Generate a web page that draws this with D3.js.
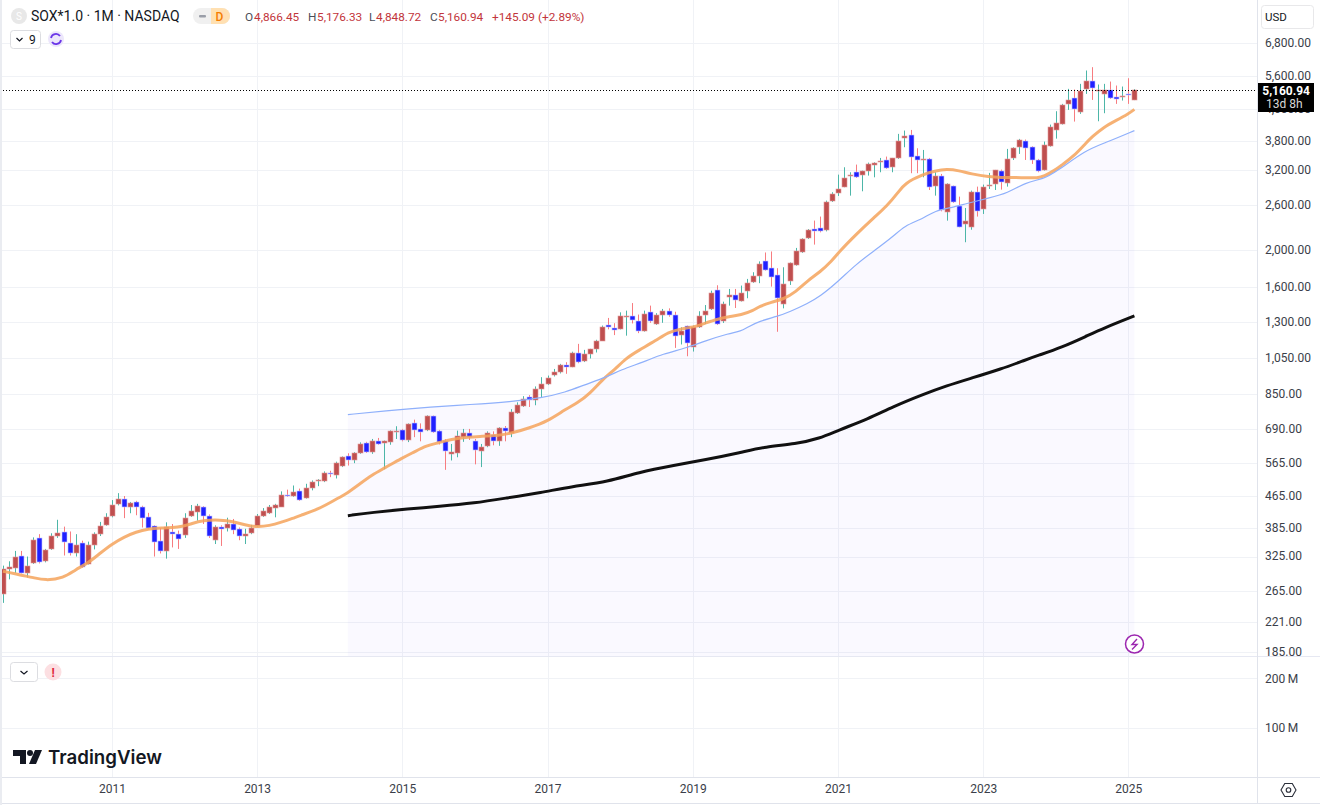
<!DOCTYPE html>
<html>
<head>
<meta charset="utf-8">
<title>SOX monthly</title>
<script src="https://cdn.jsdelivr.net/npm/d3@7"></script>
<style>
  body { margin: 0; background: #fff; }
  text { font-family: Roboto, sans-serif; }
  .domain { display: none; }
</style>
</head>
<body>
<div id="chart"></div>
<script>
// monthly bars, first bar is Jul 2009
var firstYear = 2009;
var firstMonth = 6;

var opens = [261,302,304,327,295,312,363,316,340,367,376,353,331,353,311,349,371,392,413,443,457,436,449,437,410,390,357,335,375,372,
  370,413,423,435,412,359,386,384,394,383,366,374,390,413,420,433,437,468,466,479,460,489,507,507,532,528,554,588,574,599,
  636,603,643,638,639,680,688,648,718,691,688,748,685,643,595,601,659,677,646,607,626,668,646,696,676,761,793,836,819,875,
  904,950,971,1011,1001,1086,1035,1081,1112,1168,1283,1260,1252,1346,1353,1309,1234,1384,1286,1360,1394,1362,1204,1276,1127,1268,1360,1405,1573,1308,
  1508,1532,1480,1563,1650,1710,1875,1792,1723,1447,1666,1827,1977,2144,2265,2274,2251,2663,2804,2905,3095,3175,3107,3182,3310,3369,3409,3258,3437,3869,
  3946,3485,3396,3430,2911,3101,2495,2917,2596,2324,2292,2820,2545,2911,2951,3194,2975,3443,3668,3816,3668,3409,3207,3700,4064,4211,4742,4904,4531,5173,
  5445,5112,5021,5152,4953,4933,5030,4866.45];
var highs = [308,316,336,336,325,364,371,340,373,404,388,377,371,357,355,375,399,420,454,473,465,449,452,439,421,391,385,398,394,379,
  420,441,444,438,417,391,391,409,406,386,383,392,418,433,441,444,478,483,495,486,500,510,514,538,540,570,588,599,603,639,
  641,652,656,646,686,703,692,715,731,715,750,749,688,651,633,685,692,692,652,633,682,682,699,704,778,810,840,845,890,940,
  949,987,1017,1027,1093,1145,1105,1112,1173,1276,1335,1294,1380,1394,1458,1362,1394,1436,1373,1408,1413,1385,1263,1276,1276,1389,1441,1569,1620,1470,
  1585,1585,1617,1682,1750,1866,1967,1979,1792,1802,1854,2021,2140,2260,2376,2433,2674,2810,3119,3258,3163,3310,3194,3349,3356,3443,3471,3443,3970,4049,
  4064,3646,3610,3443,3163,3132,2963,2923,2738,2560,2837,2905,2940,3151,3207,3213,3632,3668,3854,3839,3690,3423,3793,4194,4540,4742,5183,5163,5339,5778,
  5893,5318,5339,5412,5286,5255,5520,5176.33];
var lows = [247,284,295,294,287,311,312,314,338,363,327,327,325,304,310,339,367,390,410,440,408,420,415,386,382,325,331,321,343,340,
  363,411,402,394,363,350,346,377,371,358,350,371,388,411,418,410,437,463,463,452,458,481,493,505,520,516,552,557,565,597,
  600,597,630,545,630,652,643,640,659,643,683,676,631,543,574,585,641,648,561,552,621,628,626,643,659,756,788,788,796,832,
  897,944,961,959,997,1021,1028,1050,1088,1168,1248,1206,1247,1202,1292,1220,1231,1297,1281,1297,1345,1118,1141,1064,1094,1258,1288,1399,1280,1296,
  1436,1416,1471,1500,1643,1640,1766,1607,1230,1413,1623,1819,1962,2131,2061,2216,2229,2653,2749,2894,2754,3058,2826,3101,3070,3163,3226,3163,3423,3668,
  3145,3145,3070,2848,2754,2510,2375,2638,2283,2090,2251,2433,2471,2865,2848,2854,2905,3402,3526,3402,3323,3163,3194,3680,3860,4195,4576,4270,4469,5031,
  4855,4278,4487,4884,4742,4836,4742,4848.72];
var closes = [302,305,325,294,308,358,314,338,367,374,354,331,349,305,349,371,390,410,441,457,435,447,436,408,384,354,336,386,371,361,
  408,425,439,412,366,386,382,394,380,366,372,384,412,426,436,441,468,466,477,455,489,506,510,534,530,565,585,574,599,633,
  603,643,633,644,684,684,648,711,689,681,746,679,641,606,602,662,677,659,610,620,676,645,696,685,763,798,827,819,879,904,
  938,967,1009,999,1082,1028,1079,1110,1168,1268,1263,1241,1353,1354,1319,1234,1367,1309,1362,1394,1360,1200,1236,1149,1268,1348,1394,1548,1286,1450,
  1532,1488,1548,1641,1713,1839,1773,1699,1503,1634,1846,1989,2126,2251,2229,2229,2658,2782,2871,3058,3113,3082,3182,3323,3343,3389,3239,3437,3816,3931,
  3457,3402,3416,2894,3088,2530,2951,2648,2292,2375,2810,2510,2905,2934,3207,2980,3430,3654,3839,3646,3402,3182,3712,4135,4244,4723,4865,4612,5112,5445,
  5203,5142,5152,4904,4884,4962,5016,5160.94];

// moving averages: bar number, then level
var orangeBars = [0,3,5,7,10,12,14,16,18,20,22,24,26,29,31,33,36,38,40,42,44,46,48,49,52,55,57,59,61,63,66,68,70,72,74,77,79,82,84,87,90,93,95,97,99,101,103,105,108,110,112,114,116,118,120,122,124,125,127,129,131,133,135,137,138,141,144,146,148,149,152,154,156,158,160,163,165,167,169,171,172,174,175,177,179,180,182,184,186,187];
var orangeValues = [298,291,287,282,286,301,312,331,350,365,376,383,385,386,394,403,404,400,392,387,390,398,408,414,429,456,474,500,527,548,583,604,627,637,651,660,662,666,674,696,724,778,808,852,925,980,1052,1100,1170,1228,1251,1263,1293,1325,1345,1359,1393,1430,1466,1492,1555,1666,1750,1870,1960,2190,2423,2580,2810,2960,3120,3185,3226,3194,3132,3075,3064,3070,3060,3058,3085,3210,3300,3480,3760,3900,4140,4300,4470,4590];

var blueBars = [57,63,71,77,84,89,93,96,100,102,106,109,113,116,120,122,123,125,128,130,133,135,138,141,144,147,149,152,154,157,159,163,166,169,172,174,179,182,187];
var blueValues = [753,770,789,799,813,831,860,897,944,980,1030,1078,1118,1165,1218,1235,1263,1310,1348,1384,1455,1515,1655,1835,1988,2152,2306,2399,2520,2570,2622,2717,2793,2980,3040,3165,3610,3755,4048];

var blackBars = [57,61,67,72,78,83,89,94,100,105,111,116,122,126,131,135,138,143,147,152,156,160,165,169,171,175,179,182,187];
var blackValues = [414,422,431,437,446,459,475,492,506,535,558,576,602,623,633,654,686,734,788,848,894,934,987,1041,1068,1122,1197,1258,1351];

// axis labels
var priceTicks = [6800,5600,4600,3800,3200,2600,2000,1600,1300,1050,850,690,565,465,385,325,265,221,185];
var volumeTicks = [200000000,100000000];
var yearTicks = [2011,2013,2015,2017,2019,2021,2023,2025];

var lastPrice = closes[closes.length - 1];

// set svg dimensions
var svgWidth = 1320;
var svgHeight = 805;
var paneRight = 1257;
var priceBottom = 656;
var timeTop = 777;

var svg = d3
  .select("#chart")
  .append("svg")
  .attr("width", svgWidth)
  .attr("height", svgHeight)
  .style("display", "block");

// scales
var xScale = d3.scaleLinear().domain([0, 187]).range([3, 1134.4]);
var yScale = d3.scaleLog().domain([6800, 185]).range([43, 651.7]);
var volScale = d3.scaleLog().domain([200000000, 100000000]).range([678.3, 727.7]);

function yearToBar(year) {
  return (year - firstYear) * 12 - firstMonth;
}

// grid
var grid = svg.append("g").attr("stroke", "#f0f2f6").attr("shape-rendering", "crispEdges");
grid.selectAll(".h").data(priceTicks).enter().append("line")
  .attr("x1", 0).attr("x2", paneRight)
  .attr("y1", d => Math.round(yScale(d)) + 0.5)
  .attr("y2", d => Math.round(yScale(d)) + 0.5);
grid.selectAll(".v").data(volumeTicks).enter().append("line")
  .attr("x1", 0).attr("x2", paneRight)
  .attr("y1", d => Math.round(volScale(d)) + 0.5)
  .attr("y2", d => Math.round(volScale(d)) + 0.5);
grid.selectAll(".y").data(yearTicks).enter().append("line")
  .attr("x1", d => Math.round(xScale(yearToBar(d))) + 0.5)
  .attr("x2", d => Math.round(xScale(yearToBar(d))) + 0.5)
  .attr("y1", 0).attr("y2", timeTop);

// shaded band under the blue average
var bluePoints = blueBars.map((b, i) => [b, blueValues[i]]);
var area = d3.area()
  .x(d => xScale(d[0]))
  .y0(priceBottom)
  .y1(d => yScale(d[1]))
  .curve(d3.curveBasis);
svg.append("path")
  .attr("d", area(bluePoints))
  .attr("fill", "#7b61ff")
  .attr("fill-opacity", 0.035);

// candles
var bars = d3.range(opens.length).map(i => ({
  i: i, o: opens[i], h: highs[i], l: lows[i], c: closes[i], up: closes[i] >= opens[i]
}));
var candles = svg.append("g").selectAll("g").data(bars).enter().append("g");

candles.append("line")
  .attr("x1", d => Math.round(xScale(d.i)) + 0.5)
  .attr("x2", d => Math.round(xScale(d.i)) + 0.5)
  .attr("y1", d => yScale(d.h))
  .attr("y2", d => yScale(d.l))
  .attr("stroke", d => d.up ? "#4db6a8" : "#f77c80")
  .attr("stroke-width", 1);

candles.append("rect")
  .attr("x", d => Math.round(xScale(d.i)) - 2)
  .attr("width", 5)
  .attr("y", d => Math.round(yScale(Math.max(d.o, d.c))))
  .attr("height", d => Math.max(1, Math.round(yScale(Math.min(d.o, d.c))) - Math.round(yScale(Math.max(d.o, d.c)))))
  .attr("fill", d => d.up ? "#bf4f4f" : "#2020ff")
  .attr("stroke", d => d.up ? "#e39a9a" : "#c4c4ff")
  .attr("stroke-width", 0.6);

// moving average lines
function avgLine(barNums, values, color, width, opacity) {
  var line = d3.line()
    .x(d => xScale(d[0]))
    .y(d => yScale(d[1]))
    .curve(d3.curveBasis);
  svg.append("path")
    .attr("d", line(barNums.map((b, i) => [b, values[i]])))
    .attr("fill", "none")
    .attr("stroke", color)
    .attr("stroke-width", width)
    .attr("stroke-opacity", opacity);
}
avgLine(orangeBars, orangeValues, "#f5a35c", 3, 0.85);
avgLine(blueBars, blueValues, "#8fb0fb", 1.2, 1);
avgLine(blackBars, blackValues, "#111111", 3, 1);

// last price dotted line
var lastY = Math.round(yScale(lastPrice)) + 0.5;
svg.append("line")
  .attr("x1", 0).attr("x2", paneRight)
  .attr("y1", lastY).attr("y2", lastY)
  .attr("stroke", "#000")
  .attr("stroke-dasharray", "1 2");

// frame lines
var frame = svg.append("g").attr("stroke", "#e0e3eb").attr("shape-rendering", "crispEdges");
frame.append("line").attr("x1", 0).attr("x2", svgWidth).attr("y1", priceBottom + 0.5).attr("y2", priceBottom + 0.5).attr("stroke", "#e6e8f2");
frame.append("line").attr("x1", 0).attr("x2", svgWidth).attr("y1", timeTop + 0.5).attr("y2", timeTop + 0.5);
frame.append("line").attr("x1", 0).attr("x2", svgWidth).attr("y1", 803.5).attr("y2", 803.5);
frame.append("line").attr("x1", paneRight + 0.5).attr("x2", paneRight + 0.5).attr("y1", 0).attr("y2", 803);
svg.append("rect").attr("x", 0).attr("y", 0).attr("width", 2).attr("height", 805).attr("fill", "#eaecf1");

// price axis
var rightAxis = d3.axisRight(yScale)
  .tickValues(priceTicks)
  .tickSize(0)
  .tickPadding(8)
  .tickFormat(d3.format(",.2f"));
var yAxisGroup = svg.append("g")
  .attr("transform", `translate(${paneRight}, -0.5)`)
  .call(rightAxis);
yAxisGroup.selectAll("text").attr("font-size", 12).attr("fill", "#3a3e49").style("font-family", "Roboto");

// volume axis
var volAxis = d3.axisRight(volScale)
  .tickValues(volumeTicks)
  .tickSize(0)
  .tickPadding(8)
  .tickFormat(d => (d / 1000000) + "\u2009M");
var volGroup = svg.append("g")
  .attr("transform", `translate(${paneRight}, 0)`)
  .call(volAxis);
volGroup.selectAll("text").attr("font-size", 12).attr("fill", "#3a3e49").style("font-family", "Roboto");

// time axis
var bottomAxis = d3.axisBottom(xScale)
  .tickValues(yearTicks.map(yearToBar))
  .tickSize(0)
  .tickPadding(7)
  .tickFormat(b => String(firstYear + (b + firstMonth) / 12));
var xAxisGroup = svg.append("g")
  .attr("transform", `translate(0, ${timeTop})`)
  .call(bottomAxis);
xAxisGroup.selectAll("text")
  .attr("font-size", 12).attr("fill", "#3a3e49").style("font-family", "Roboto");

// USD box
svg.append("rect").attr("x", 1261.5).attr("y", 5.5).attr("width", 52).attr("height", 23).attr("rx", 3)
  .attr("fill", "#fff").attr("stroke", "#e8e8ea");
svg.append("text").attr("x", 1265).attr("y", 20.5).attr("font-size", 11.5).attr("fill", "#131722").text("USD");

// last price tag
svg.append("rect").attr("x", 1258).attr("y", 83).attr("width", 56).attr("height", 29).attr("fill", "#000");
svg.append("text").attr("x", 1310).attr("y", 94.5).attr("text-anchor", "end").attr("font-size", 12).attr("font-weight", 700).attr("fill", "#fff")
  .text(d3.format(",.2f")(lastPrice));
svg.append("text").attr("x", 1266).attr("y", 107.5).attr("font-size", 12).attr("fill", "#d8d8d8").text("13d 8h");

// legend top left
svg.append("circle").attr("cx", 19).attr("cy", 16).attr("r", 8).attr("fill", "#e8e8e8");
svg.append("text").attr("x", 19).attr("y", 19.5).attr("text-anchor", "middle").attr("font-size", 10).attr("fill", "#fff").text("S");
svg.append("text").attr("x", 31).attr("y", 21).attr("font-size", 14).attr("fill", "#131722").text("SOX*1.0 · 1M · NASDAQ");

svg.append("rect").attr("x", 193).attr("y", 8).attr("width", 37).attr("height", 16).attr("rx", 8).attr("fill", "#f0f0f0");
svg.append("path").attr("d", "M211 8h11a8 8 0 0 1 0 16h-11z").attr("fill", "#ffe0b2");
svg.append("rect").attr("x", 199).attr("y", 15).attr("width", 7).attr("height", 2.4).attr("rx", 1).attr("fill", "#9a9ea8");
svg.append("text").attr("x", 219.5).attr("y", 20.5).attr("text-anchor", "middle").attr("font-size", 12).attr("font-weight", 500).attr("fill", "#f57c00").text("D");

var ohlcLabels = [
  { x: 245, text: "O", color: "#4a4e59" }, { x: 254, text: "4,866.45", color: "#c2353b" },
  { x: 308, text: "H", color: "#4a4e59" }, { x: 317, text: "5,176.33", color: "#c2353b" },
  { x: 369, text: "L", color: "#4a4e59" }, { x: 376, text: "4,848.72", color: "#c2353b" },
  { x: 430, text: "C", color: "#4a4e59" }, { x: 438, text: "5,160.94", color: "#c2353b" },
  { x: 492, text: "+145.09", color: "#c2353b" }, { x: 538, text: "(+2.89%)", color: "#c2353b" }
];
svg.selectAll(".ohlc").data(ohlcLabels).enter().append("text")
  .attr("x", d => d.x).attr("y", 20.5)
  .attr("font-size", 11.8)
  .attr("fill", d => d.color)
  .text(d => d.text);

// indicators button row
svg.append("rect").attr("x", 10.5).attr("y", 30.5).attr("width", 30).attr("height", 18).attr("rx", 3).attr("fill", "#fff").attr("stroke", "#dcdde1");
svg.append("path").attr("d", "M16.5 38l3 3 3-3").attr("fill", "none").attr("stroke", "#131722").attr("stroke-width", 1.2);
svg.append("text").attr("x", 29).attr("y", 44).attr("font-size", 12).attr("fill", "#131722").text("9");
svg.append("circle").attr("cx", 56).attr("cy", 39).attr("r", 8).attr("fill", "#ece6fb");
svg.append("path").attr("d", "M51 38a5 5 0 0 1 9-2M61 40a5 5 0 0 1-9 2").attr("fill", "none").attr("stroke", "#6a35e8").attr("stroke-width", 1.8);

// volume pane buttons
svg.append("rect").attr("x", 10.5).attr("y", 662.5).attr("width", 27).attr("height", 19).attr("rx", 3).attr("fill", "#fff").attr("stroke", "#dcdde1");
svg.append("path").attr("d", "M20.5 671l3.5 3 3.5-3").attr("fill", "none").attr("stroke", "#131722").attr("stroke-width", 1.2);
svg.append("circle").attr("cx", 53).attr("cy", 672).attr("r", 8.5).attr("fill", "#fcdfe2");
svg.append("text").attr("x", 53).attr("y", 676.5).attr("text-anchor", "middle").attr("font-size", 12).attr("font-weight", 700).attr("fill", "#e0263c").text("!");

// logo
var logo = svg.append("g").attr("fill", "#131722");
logo.append("path").attr("d", "M13 750h13v14h-6v-8h-7z");
logo.append("circle").attr("cx", 30).attr("cy", 753).attr("r", 3);
logo.append("path").attr("d", "M35 750h7l-6 14h-7z");
svg.append("text").attr("x", 48).attr("y", 764).attr("font-size", 18.7).attr("font-weight", 600).style("font-family", "Inter").attr("fill", "#131722").text("TradingView");

// lightning mark
svg.append("circle").attr("cx", 1134.5).attr("cy", 644).attr("r", 9).attr("fill", "#fff").attr("stroke", "#9c27b0").attr("stroke-width", 1.5);
svg.append("path").attr("d", "M1137 639l-5 5.5h5l-5 5").attr("fill", "none").attr("stroke", "#9c27b0").attr("stroke-width", 1.4);

// settings icon
var hexPoints = d3.range(6).map(k => {
  var a = Math.PI / 3 * k;
  return [1288.5 + 7.5 * Math.cos(a), 790 + 7.5 * Math.sin(a)];
});
svg.append("polygon").attr("points", hexPoints.join(" ")).attr("fill", "none").attr("stroke", "#2a2e39").attr("stroke-width", 1.1);
svg.append("circle").attr("cx", 1288.5).attr("cy", 790).attr("r", 2.3).attr("fill", "none").attr("stroke", "#2a2e39").attr("stroke-width", 1.1);
</script>
</body>
</html>
